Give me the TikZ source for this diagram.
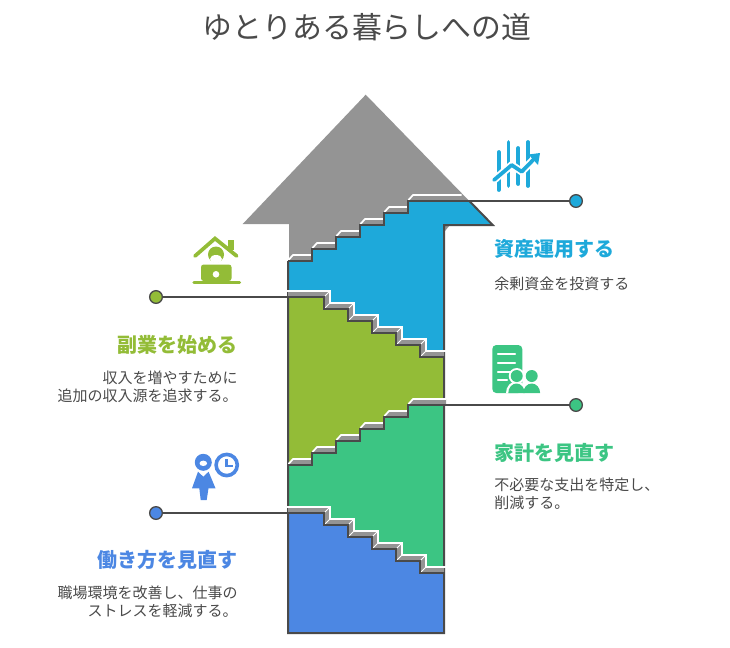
\documentclass[tikz,border=0pt]{standalone}
\usepackage{fontspec}
\setmainfont{Noto Sans CJK JP}
\definecolor{cdark}{HTML}{4A4A4A}
\definecolor{cgrey}{HTML}{949494}
\definecolor{ccyan}{HTML}{1EA9DA}
\definecolor{clime}{HTML}{93BC37}
\definecolor{cgreen}{HTML}{3CC583}
\definecolor{cblue}{HTML}{4C87E3}
\tikzset{
  x=0.75pt,y=-0.75pt,
  titletext/.style={inner sep=0pt,text=cdark,font=\fontsize{22.4pt}{27pt}\selectfont},
  headtext/.style={inner sep=0pt,font=\fontsize{15pt}{18pt}\selectfont\bfseries},
  bodyr/.style={inner sep=0pt,text=cdark,align=right,anchor=east,font=\fontsize{11.25pt}{13.5pt}\selectfont},
  bodyl/.style={inner sep=0pt,text=cdark,align=left,anchor=west,font=\fontsize{11.25pt}{13.5pt}\selectfont},
  darkline/.style={draw=cdark,line width=1.5pt,line join=miter},
  wire/.style={draw=cdark,line width=1.5pt},
  whiteline/.style={draw=white,line width=1.5pt,line join=miter},
  dot/.style={circle,draw=cdark,line width=1pt,minimum size=9.5pt,inner sep=0pt},
}
\newcommand{\upstair}[2]{% #1 lowest tread y, #2 last x
  \begin{scope}[shift={(0,#1-261)}]
  \foreach \xa/\xb/\ya in {288/312/261,312/336/249,336/360/237,360/384/225,384/408/213,408/#2/201}{
    \fill[cgrey] (\xa,\ya) -- (\xa+5,\ya-6) -- (\xb,\ya-6) -- (\xb,\ya) -- cycle;
    \draw[whiteline,line width=1.3pt] (\xa+0.5,\ya-1) -- (\xa+5,\ya-6) -- (\xb,\ya-6);
  }
  \end{scope}}
\newcommand{\upstairline}[2]{%
  \begin{scope}[shift={(0,#1-261)}]
  \draw[darkline] (288,261) -- (312,261) -- (312,249) -- (336,249) -- (336,237) -- (360,237) -- (360,225) -- (384,225) -- (384,213) -- (408,213) -- (408,201) -- (#2,201);
  \end{scope}}
\newcommand{\downstair}[1]{% #1 top tread y
  \begin{scope}[shift={(0,#1-297)}]
  \fill[cgrey] (288,297) -- (324,297) -- (324,309) -- (348,309) -- (348,321) -- (372,321) -- (372,333) -- (396,333) -- (396,345) -- (420,345) -- (420,357) -- (444,357) -- (444,351) -- (426,351) -- (426,339) -- (402,339) -- (402,327) -- (378,327) -- (378,315) -- (354,315) -- (354,303) -- (330,303) -- (330,291) -- (288,291) -- cycle;
  \draw[whiteline] (286.5,291) -- (330,291) -- (330,303) -- (354,303) -- (354,315) -- (378,315) -- (378,327) -- (402,327) -- (402,339) -- (426,339) -- (426,351) -- (446,351);
  \foreach \xx/\yy in {330/291,354/303,378/315,402/327,426/339}{
    \draw[white,line width=0.7pt] (\xx,\yy) -- (\xx-5,\yy+5);
  }
  \foreach \xx/\yy in {330/303,354/315,378/327,402/339,426/351}{
    \draw[white,line width=0.7pt] (\xx,\yy) -- (\xx-5,\yy+5);
  }
  \draw[darkline] (288,297) -- (324,297) -- (324,309) -- (348,309) -- (348,321) -- (372,321) -- (372,333) -- (396,333) -- (396,345) -- (420,345) -- (420,357) -- (445,357);
  \end{scope}}
\begin{document}
\begin{tikzpicture}
\useasboundingbox (0,0) rectangle (730,647);
% title
\node[titletext] (title) at (367,27) {ゆとりある暮らしへの道};
% grey arrow back
\fill[cgrey] (365.7,94.7) -- (242.7,224) -- (289,224) -- (289,262) -- (420,262) -- (469.3,201) -- cycle;
% fills
\fill[ccyan] (288,261) -- (312,261) -- (312,249) -- (336,249) -- (336,237) -- (360,237) -- (360,225) -- (384,225) -- (384,213) -- (408,213) -- (408,201) -- (469.3,201) -- (492.7,225) -- (444,225) -- (444,357) -- (420,357) -- (420,345) -- (396,345) -- (396,333) -- (372,333) -- (372,321) -- (348,321) -- (348,309) -- (324,309) -- (324,297) -- (288,297) -- cycle;
\fill[clime] (288,297) -- (324,297) -- (324,309) -- (348,309) -- (348,321) -- (372,321) -- (372,333) -- (396,333) -- (396,345) -- (420,345) -- (420,357) -- (444,357) -- (444,405) -- (408,405) -- (408,417) -- (384,417) -- (384,429) -- (360,429) -- (360,441) -- (336,441) -- (336,453) -- (312,453) -- (312,465) -- (288,465) -- cycle;
\fill[cgreen] (288,465) -- (312,465) -- (312,453) -- (336,453) -- (336,441) -- (360,441) -- (360,429) -- (384,429) -- (384,417) -- (408,417) -- (408,405) -- (444,405) -- (444,573) -- (420,573) -- (420,561) -- (396,561) -- (396,549) -- (372,549) -- (372,537) -- (348,537) -- (348,525) -- (324,525) -- (324,513) -- (288,513) -- cycle;
\fill[cblue] (288,513) -- (324,513) -- (324,525) -- (348,525) -- (348,537) -- (372,537) -- (372,549) -- (396,549) -- (396,561) -- (420,561) -- (420,573) -- (444,573) -- (444,633) -- (288,633) -- cycle;
% outer border
\draw[darkline] (288,261) -- (288,633) -- (444,633) -- (444,225) -- (492.7,225) -- (469.3,201);
% treads
\upstair{261}{461.5}
\upstair{465}{446}
\downstair{297}
\downstair{513}
\upstairline{261}{469.3}
\upstairline{465}{444}
% connector anchors
\coordinate (aCyan) at (469.3,201);
\coordinate (aLime) at (288,297);
\coordinate (aGreen) at (444,405);
\coordinate (aBlue) at (288,513);
% dots
\node[dot,fill=ccyan] (dCyan) at (576,201) {};
\node[dot,fill=clime] (dLime) at (156,297) {};
\node[dot,fill=cgreen] (dGreen) at (576,405) {};
\node[dot,fill=cblue] (dBlue) at (156,513) {};
\draw[wire] (aCyan) -- (dCyan);
\draw[wire] (aLime) -- (dLime);
\draw[wire] (aGreen) -- (dGreen);
\draw[wire] (aBlue) -- (dBlue);
% texts
\node[headtext,text=ccyan,anchor=west] (h1) at (494,249) {資産運用する};
\node[bodyl] (b1) at (494,284) {余剰資金を投資する};
\node[headtext,text=clime,anchor=east] (h2) at (238,345) {副業を始める};
\node[bodyr] (b2) at (238,386.5) {収入を増やすために\\追加の収入源を追求する。};
\node[headtext,text=cgreen,anchor=west] (h3) at (494,453) {家計を見直す};
\node[bodyl] (b3) at (494,494) {不必要な支出を特定し、\\削減する。};
\node[headtext,text=cblue,anchor=east] (h4) at (238,560) {働き方を見直す};
\node[bodyr] (b4) at (238,602) {職場環境を改善し、仕事の\\ストレスを軽減する。};
% icon: chart
\begin{scope}[ccyan,line width=2.8pt,line cap=round]
\draw (498.7,152) -- (498.7,190);
\draw (508.5,142) -- (508.5,186);
\draw (518.3,148) -- (518.3,184);
\draw (528,142) -- (528,186);
\draw[white,line width=5.6pt,line cap=butt] (494,180) -- (511.7,165) -- (521.7,171.7) -- (534,159);
\draw[line join=round] (494,180) -- (511.7,165) -- (521.7,171.7) -- (535,158);
\fill (540,153) -- (528.5,154.5) -- (538,165) -- cycle;
\end{scope}
% icon: document with people
\fill[cgreen,rounded corners=3pt] (492.3,345) -- (522.3,345) -- (522.3,393) -- (492.3,393) -- cycle;
\begin{scope}[white,line width=1.7pt,line cap=round]
\draw (498,354.3) -- (515,354.3);
\draw (498,363.3) -- (515,363.3);
\draw (498,372) -- (512,372);
\draw (498,380.3) -- (507,380.3);
\end{scope}
\fill[white] (516.7,376) circle[radius=8];
\fill[white] (506,393) arc[start angle=180,end angle=360,x radius=10.7,y radius=11.8] -- cycle;
\fill[cgreen] (516.7,376) circle[radius=6];
\fill[cgreen] (531.7,376) circle[radius=6];
\fill[cgreen] (508.3,393) arc[start angle=180,end angle=360,x radius=8.2,y radius=9.5] -- cycle;
\fill[cgreen] (523.3,393) arc[start angle=180,end angle=360,x radius=8.4,y radius=9.5] -- cycle;
% icon: house
\draw[clime,line width=2.8pt,line cap=round,line join=miter] (195,256) -- (215,238.5) -- (236.7,256);
\fill[clime] (228.3,240) rectangle (234.3,250);
\fill[clime] (216,254.5) circle[radius=8];
\fill[white] (216,259) ellipse[x radius=6,y radius=4];
\fill[clime,rounded corners=2pt] (201,264.5) -- (231.5,264.5) -- (231.5,281) -- (201,281) -- cycle;
\fill[white] (216,274.3) circle[radius=3.3];
\draw[clime,line width=2.6pt,line cap=round] (194,282.5) -- (239.5,282.5);
% icon: person + clock
\fill[cblue] (203.3,462.3) circle[radius=8.5];
\fill[white] (203.3,463.3) ellipse[x radius=3.8,y radius=2.7];
\fill[cblue] (198,471.7) -- (203.3,476.7) -- (208.6,471.7) -- (215.5,488.3) -- (208.5,488.3) -- (206.7,500) -- (200.7,500) -- (199.3,488.3) -- (192,488.3) -- cycle;
\draw[cblue,line width=2.7pt] (226.7,465) circle[radius=10.6];
\draw[cblue,line width=1.9pt] (226.7,459) -- (226.7,466) -- (233,466);
\end{tikzpicture}
\end{document}
